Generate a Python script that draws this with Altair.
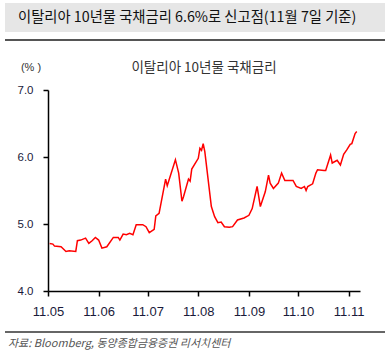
import altair as alt
import pandas as pd

dates = [
    "2011-05-02", "2011-05-04", "2011-05-05", "2011-05-09", "2011-05-12", "2011-05-14",
    "2011-05-18", "2011-05-19", "2011-05-21", "2011-05-24", "2011-05-26", "2011-05-28",
    "2011-05-30", "2011-06-01", "2011-06-03", "2011-06-06", "2011-06-10", "2011-06-13",
    "2011-06-14", "2011-06-16", "2011-06-18", "2011-06-20", "2011-06-22", "2011-06-24",
    "2011-06-28", "2011-06-30", "2011-07-02", "2011-07-05", "2011-07-06", "2011-07-08",
    "2011-07-12", "2011-07-13", "2011-07-18", "2011-07-20", "2011-07-22", "2011-07-23",
    "2011-07-26", "2011-07-27", "2011-07-28", "2011-08-01", "2011-08-02", "2011-08-03",
    "2011-08-04", "2011-08-05", "2011-08-09", "2011-08-11", "2011-08-13", "2011-08-15",
    "2011-08-17", "2011-08-20", "2011-08-22", "2011-08-25", "2011-08-29", "2011-09-01",
    "2011-09-03", "2011-09-06", "2011-09-08", "2011-09-11", "2011-09-13", "2011-09-14",
    "2011-09-16", "2011-09-19", "2011-09-21", "2011-09-23", "2011-09-26", "2011-09-28",
    "2011-09-30", "2011-10-03", "2011-10-05", "2011-10-06", "2011-10-07", "2011-10-10",
    "2011-10-12", "2011-10-13", "2011-10-17", "2011-10-18", "2011-10-21", "2011-10-22",
    "2011-10-25", "2011-10-27", "2011-10-29", "2011-10-31", "2011-11-02", "2011-11-03",
    "2011-11-05", "2011-11-06",
]
rates = [
    4.71, 4.70, 4.67, 4.66, 4.59, 4.60,
    4.59, 4.75, 4.76, 4.79, 4.71, 4.75,
    4.80, 4.76, 4.64, 4.66, 4.80, 4.80,
    4.76, 4.85, 4.84, 4.86, 4.84, 4.99,
    4.99, 4.96, 4.87, 4.92, 5.12, 5.16,
    5.67, 5.57, 5.96, 5.76, 5.34, 5.41,
    5.67, 5.64, 5.82, 5.98, 6.13, 6.10,
    6.20, 6.08, 5.26, 5.11, 5.02, 5.03,
    4.96, 4.95, 4.96, 5.06, 5.09, 5.13,
    5.23, 5.56, 5.26, 5.48, 5.73, 5.61,
    5.53, 5.61, 5.76, 5.65, 5.65, 5.65,
    5.56, 5.53, 5.56, 5.50, 5.56, 5.60,
    5.76, 5.81, 5.80, 5.80, 6.03, 5.91,
    5.95, 5.88, 6.04, 6.11, 6.19, 6.20,
    6.35, 6.38,
]
y_ticks = [4, 5, 6, 7]
x_tick_months = [5, 6, 7, 8, 9, 10, 11]

header_title = "이탈리아 10년물 국채금리 6.6%로 신고점(11월 7일 기준)"
chart_title = "이탈리아 10년물 국채금리"
unit_label = "(% )"
source_text = "자료: Bloomberg, 동양종합금융증권 리서치센터"

df = pd.DataFrame({"date": pd.to_datetime(dates), "rate": rates})

line = alt.Chart(df).mark_line(color="#ff0000", strokeWidth=1.5).encode(
    x=alt.X(
        "date:T",
        scale=alt.Scale(domain=[alt.DateTime(year=2011, month=5, date=1),
                                alt.DateTime(year=2011, month=11, date=8)]),
        axis=alt.Axis(
            values=[alt.DateTime(year=2011, month=m, date=1) for m in x_tick_months],
            format="%y.%m", title=None, grid=False,
            domainColor="black", domainWidth=1.5,
            tickColor="black", tickSize=5, tickWidth=1.5,
            labelFont="Liberation Sans", labelFontSize=13, labelColor="#1a1a3a",
            labelPadding=9, labelFlush=False, labelOverlap=False,
        ),
    ),
    y=alt.Y(
        "rate:Q",
        scale=alt.Scale(domain=[4, 7], nice=False, zero=False),
        axis=alt.Axis(
            values=y_ticks, format=".1f", title=None, grid=False,
            domainColor="black", domainWidth=1.5,
            tickColor="black", tickSize=5, tickWidth=1.5,
            labelFont="Liberation Sans", labelFontSize=11.5, labelColor="#1a1a3a",
            labelPadding=10,
        ),
    ),
)

base = alt.Chart(pd.DataFrame({"k": [0]}))

header_box = base.mark_rect(color="#e6e6e6").encode(
    x=alt.value(-43), x2=alt.value(337), y=alt.value(-87), y2=alt.value(-58)
)
header_rule = base.mark_rule(color="#555555", strokeWidth=2).encode(
    x=alt.value(-43), x2=alt.value(337), y=alt.value(-50)
)
header_text = base.mark_text(
    text=header_title, align="left", baseline="middle",
    font="Noto Sans CJK KR", fontSize=14.3, color="#111111"
).encode(x=alt.value(-30), y=alt.value(-72))

title_text = base.mark_text(
    text=chart_title, align="center", baseline="middle",
    font="Noto Sans CJK KR", fontSize=13.5, color="#333333"
).encode(x=alt.value(156), y=alt.value(-22))

unit_text = base.mark_text(
    text=unit_label, align="center", baseline="middle",
    font="Liberation Sans", fontSize=11, color="#333333"
).encode(x=alt.value(-17), y=alt.value(-22))

footer_rule = base.mark_rule(color="#333333", strokeWidth=1.5).encode(
    x=alt.value(-43), x2=alt.value(337), y=alt.value(242)
)
footer_text = base.mark_text(
    text=source_text, align="left", baseline="middle",
    font="Noto Sans CJK KR", fontSize=11, fontStyle="italic", color="#555555"
).encode(x=alt.value(-40), y=alt.value(254))

chart = alt.layer(
    header_box, header_rule, header_text, title_text, unit_text,
    footer_rule, footer_text, line
).properties(
    width=312, height=201,
    padding={"left": 48, "top": 90, "right": 30, "bottom": 61},
    autosize="none",
).configure_view(stroke=None)

chart.save("out.html", embed_options={"renderer": "svg", "actions": False})
